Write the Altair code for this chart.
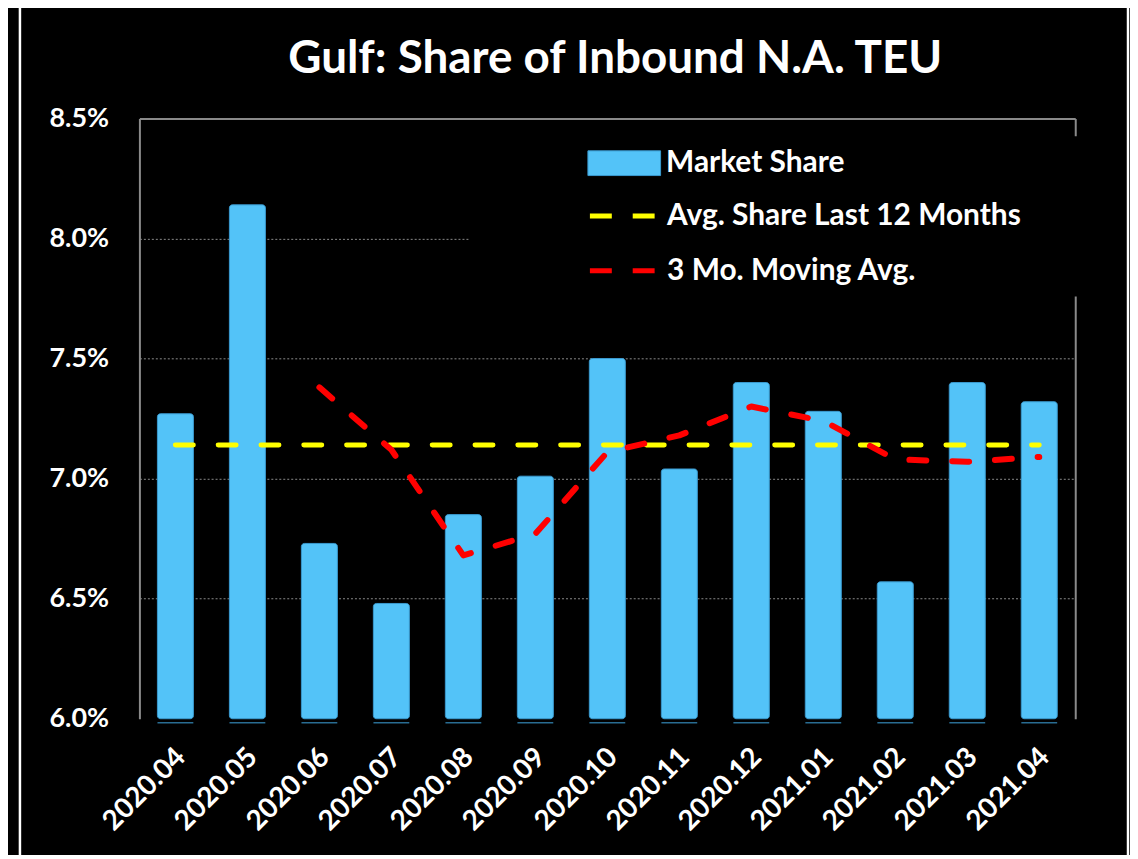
import altair as alt
import pandas as pd

months = ["2020.04", "2020.05", "2020.06", "2020.07", "2020.08", "2020.09", "2020.10",
          "2020.11", "2020.12", "2021.01", "2021.02", "2021.03", "2021.04"]
share = [7.27, 8.14, 6.73, 6.48, 6.85, 7.01, 7.50, 7.04, 7.40, 7.28, 6.57, 7.40, 7.32]
avg_12 = 7.14
ma_months = months[2:]
ma_3 = [7.38, 7.12, 6.68, 6.77, 7.11, 7.18, 7.30, 7.24, 7.08, 7.07, 7.09]
y_ticks = [6.0, 6.5, 7.0, 7.5, 8.0, 8.5]

S_BAR = "Market Share"
S_AVG = "Avg. Share Last 12 Months"
S_MA = "3 Mo. Moving Avg."

BLUE = "#53C3F8"
BLUE_EDGE = "#3A9AD0"
YELLOW = "#FFFF00"
RED = "#FF0000"
GRID = "#8a8a8a"
FONT = "Lato"

bars_df = pd.DataFrame({"month": months, "value": share, "series": S_BAR})
lines_df = pd.concat([
    pd.DataFrame({"month": months, "value": [avg_12] * len(months), "series": S_AVG}),
    pd.DataFrame({"month": ma_months, "value": ma_3, "series": S_MA}),
], ignore_index=True)

x_scale = alt.Scale(domain=months, paddingInner=0.5, paddingOuter=0.25)
y_scale = alt.Scale(domain=[6.0, 8.5], zero=False, nice=False)

x_bottom = alt.Axis(title=None, labelAngle=315, labelAlign="right", labelBaseline="middle",
                    labelFont=FONT, labelFontSize=28, labelFontWeight="bold", labelColor="white",
                    labelPadding=34, labelOffset=6, ticks=False, domain=False, grid=False)
y_left = alt.Axis(title=None, values=y_ticks, labelExpr="format(datum.value, '.1f') + '%'",
                  labelFont=FONT, labelFontSize=27, labelFontWeight="bold", labelColor="white",
                  labelPadding=31, ticks=False, domain=True, domainColor=GRID, domainWidth=2,
                  grid=True, gridColor=GRID, gridDash=[2, 2], gridWidth=1,
                  gridOpacity={"condition": {"test": "datum.value <= 6.0", "value": 0}, "value": 1})
x_top = alt.Axis(title=None, orient="top", labels=False, ticks=False, tickSize=0, domain=True,
                 domainColor=GRID, domainWidth=2, grid=False)
y_right = alt.Axis(title=None, orient="right", labels=False, ticks=False, tickSize=0, domain=True,
                   domainColor=GRID, domainWidth=2, grid=False, values=y_ticks)

mask = alt.Chart(pd.DataFrame({"k": [0]})).mark_rect(fill="black").encode(
    x=alt.value(331), x2=alt.value(960), y=alt.value(18), y2=alt.value(179))

bars = alt.Chart(bars_df).mark_bar(stroke=BLUE_EDGE, strokeWidth=1, cornerRadius=3).encode(
    x=alt.X("month:N", sort=months, scale=x_scale, axis=x_bottom),
    y=alt.Y("value:Q", scale=y_scale, axis=y_left),
    y2=alt.datum(6.0),
    fill=alt.Fill("series:N", scale=alt.Scale(domain=[S_BAR], range=[BLUE]),
                  legend=alt.Legend(title=None, orient="none", legendX=450, legendY=8,
                                    symbolType="M-1,-0.34H1V0.34H-1Z", symbolSize=5329,
                                    symbolStrokeColor=BLUE_EDGE, symbolStrokeWidth=1,
                                    labelFont=FONT, labelFontSize=30, labelFontWeight="bold",
                                    labelColor="white", labelOffset=5, labelLimit=600,
                                    padding=0)),
)

under = alt.Chart(bars_df).mark_tick(color=BLUE_EDGE, thickness=1.5, size=36, yOffset=4).encode(
    x=alt.X("month:N", sort=months, axis=None),
    y=alt.Y(datum=6.0, axis=None),
)

avg_line = alt.Chart(lines_df).transform_filter(alt.datum.series == S_AVG).mark_line(
    strokeWidth=5, strokeDash=[18, 25], strokeCap="round").encode(
    x=alt.X("month:N", sort=months, axis=x_top),
    y=alt.Y("value:Q", axis=y_right),
    stroke=alt.Stroke("series:N", scale=alt.Scale(domain=[S_AVG, S_MA], range=[YELLOW, RED]),
                      legend=alt.Legend(title=None, orient="none", legendX=450, legendY=63,
                                        symbolType="stroke", symbolSize=4225,
                                        symbolStrokeWidth=5, symbolDash=[22, 21],
                                        rowPadding=5,
                                        labelFont=FONT, labelFontSize=30, labelFontWeight="bold",
                                        labelColor="white", labelOffset=10, labelLimit=600,
                                        padding=0)),
)

ma_line = alt.Chart(lines_df).transform_filter(alt.datum.series == S_MA).mark_line(
    strokeWidth=6, strokeDash=[17, 26], strokeCap="round", strokeJoin="round").encode(
    x=alt.X("month:N", sort=months, axis=None),
    y=alt.Y("value:Q", axis=None),
    stroke=alt.Stroke("series:N"),
)

frame = alt.Chart(pd.DataFrame({"k": [0]})).mark_rect(fill="transparent", stroke="white",
                                                       strokeWidth=2.5).encode(
    x=alt.value(-120), x2=alt.value(993), y=alt.value(-113), y2=alt.value(780))

chart = alt.layer(mask, bars, under, avg_line, ma_line, frame).resolve_axis(
    x="independent", y="independent"
).properties(
    width=940, height=603,
    padding={"left": 132, "top": 109, "right": 55, "bottom": 135},
    autosize=alt.AutoSizeParams(type="none"),
    background="black",
    title=alt.TitleParams("Gulf: Share of Inbound N.A. TEU", font=FONT, fontSize=46,
                          fontWeight="bold", color="white", anchor="middle", frame="group",
                          baseline="alphabetic", offset=-115, dx=8),
).configure_view(stroke=None)

chart.save("out.html", embed_options={"renderer": "svg", "actions": False})
